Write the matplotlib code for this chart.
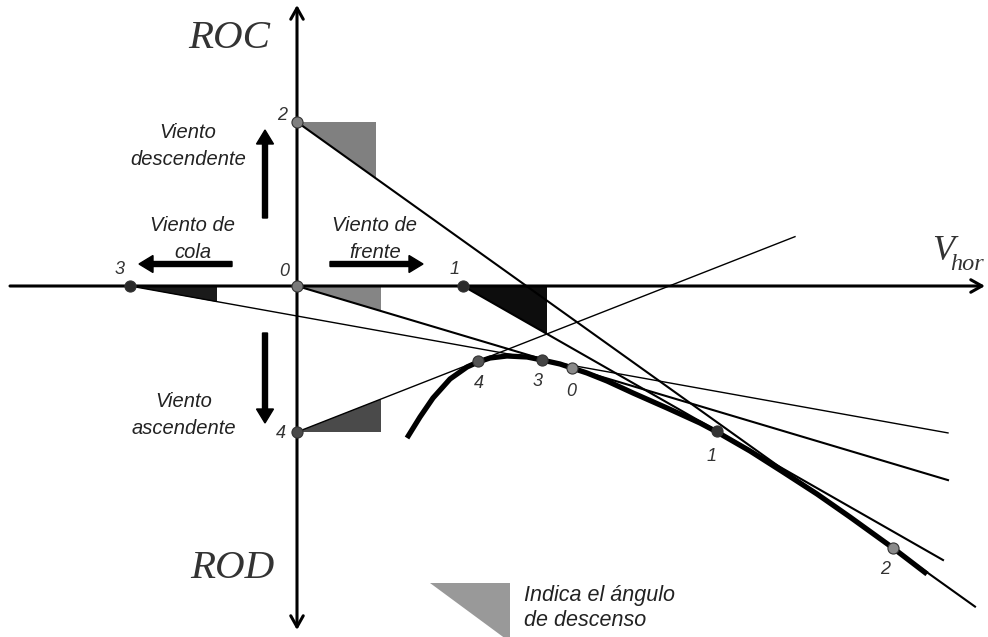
import numpy as np
import matplotlib.pyplot as plt
from matplotlib.patches import Polygon

# diagram units: 1 unit = 1 pixel, origin where the two axes cross
# polar curve (ROC vs horizontal speed)
curve_v = [110, 123, 136, 153, 170, 181, 193, 210, 230, 245, 263, 275, 290,
           310, 336, 370, 403, 420, 453, 486, 520, 553, 596, 630]
curve_roc = [-152, -131, -112, -93, -81, -76, -72, -70, -71, -74, -78, -82, -87,
             -95, -107, -122, -137, -146, -165, -186, -208, -231, -262, -288]

# wind cases 0..4: starting point on the axes and tangent point on the curve
case_names = ["0", "1", "2", "3", "4"]
start_v = [0, 166, 0, -167, 0]
start_roc = [0, 0, 164, 0, -146]
tangent_v = [275, 420, 596, 245, 181]
tangent_roc = [-82, -145, -262, -74, -75]
line_end_v = [651, 646, 678, 651, 498]
wedge_width = [84, 84, 79, 87, 84]

sans = "Liberation Sans"
serif = "Liberation Serif"
txt = "#222222"

fig = plt.figure(figsize=(9.88, 6.37), dpi=100)
ax = fig.add_axes([0, 0, 1, 1])
ax.set_xlim(-297, 691)
ax.set_ylim(-351, 286)
ax.axis("off")

# axes with arrows
ax.annotate("", xy=(688, 0), xytext=(-287, 0),
            arrowprops=dict(arrowstyle="->, head_length=0.8, head_width=0.45",
                            lw=2.2, color="black", shrinkA=0, shrinkB=0), zorder=3)
ax.annotate("", xy=(0, 281), xytext=(0, -344),
            arrowprops=dict(arrowstyle="<->, head_length=0.8, head_width=0.45",
                            lw=2.2, color="black", shrinkA=0, shrinkB=0), zorder=3)

wedge_colors = ["#858585", "#0d0d0d", "#808080", "#1a1a1a", "#4a4a4a"]
line_widths = [1.5, 1.5, 1.5, 1.0, 1.0]
start_colors = ["#7a7a7a", "#2a2a2a", "#7f7f7f", "#2a2a2a", "#4a4a4a"]
tan_colors = ["#8a8a8a", "#333333", "#8a8a8a", "#444444", "#555555"]

for i in range(5):
    slope = (tangent_roc[i] - start_roc[i]) / (tangent_v[i] - start_v[i])
    x0, y0 = start_v[i], start_roc[i]
    # tangent line
    ax.plot([x0, line_end_v[i]], [y0, y0 + slope * (line_end_v[i] - x0)],
            color="black", lw=line_widths[i], zorder=2)
    # angle wedge
    w = wedge_width[i]
    ax.add_patch(Polygon([(x0, y0), (x0 + w, y0), (x0 + w, y0 + slope * w)],
                         closed=True, facecolor=wedge_colors[i], edgecolor="none",
                         zorder=1))

# polar curve
ax.plot(curve_v, curve_roc, color="black", lw=3.8, solid_capstyle="butt",
        solid_joinstyle="round", zorder=4)

# points
for i in range(5):
    ax.plot(start_v[i], start_roc[i], "o", ms=8, mfc=start_colors[i],
            mec="#333333", mew=0.8, zorder=6)
    ax.plot(tangent_v[i], tangent_roc[i], "o", ms=8, mfc=tan_colors[i],
            mec="#333333", mew=0.8, zorder=6)

# point labels
start_lab_v = [-13, 158, -15, -177, -16]
start_lab_roc = [14, 16, 171, 16, -148]
tan_lab_v = [274, 415, 588, 241, 182]
tan_lab_roc = [-106, -171, -283, -96, -98]
for i in range(5):
    ax.text(start_lab_v[i], start_lab_roc[i], case_names[i], family=sans,
            style="italic", fontsize=13, color="#333333", ha="center", va="center")
    ax.text(tan_lab_v[i], tan_lab_roc[i], case_names[i], family=sans,
            style="italic", fontsize=13, color="#333333", ha="center", va="center")

# wind arrows
arrow_kw = dict(width=5, head_width=17, head_length=14, length_includes_head=True,
                color="black", zorder=5)
ax.arrow(-32, 68, 0, 88, **arrow_kw)
ax.arrow(-32, -47, 0, -90, **arrow_kw)
ax.arrow(-65, 22, -93, 0, **arrow_kw)
ax.arrow(33, 22, 93, 0, **arrow_kw)

wind_kw = dict(family=sans, style="italic", fontsize=14.5, color=txt,
               ha="center", va="center", linespacing=1.5)
ax.text(-109, 140, "Viento\ndescendente", **wind_kw)
ax.text(-104, 47, "Viento de\ncola", **wind_kw)
ax.text(78, 47, "Viento de\nfrente", **wind_kw)
ax.text(-113, -129, "Viento\nascendente", **wind_kw)

# axis titles
ax.text(-68, 248, "ROC", family=serif, style="italic", fontsize=29.5,
        color="#333333", ha="center", va="center")
ax.text(-65, -282, "ROD", family=serif, style="italic", fontsize=29.5,
        color="#333333", ha="center", va="center")
ax.text(635, 26, "V", family=serif, style="italic", fontsize=26,
        color="#333333", ha="left", va="baseline")
ax.text(653, 16, "hor", family=serif, style="italic", fontsize=17.5,
        color="#333333", ha="left", va="baseline")

# legend wedge
ax.add_patch(Polygon([(133, -297), (213, -297), (213, -356)], closed=True,
                     facecolor="#999999", edgecolor="none", zorder=1))
ax.text(227, -322, "Indica el ángulo\nde descenso", family=sans, style="italic",
        fontsize=15.5, color=txt, ha="left", va="center", linespacing=1.25)

fig.savefig("out.png", dpi=100)
